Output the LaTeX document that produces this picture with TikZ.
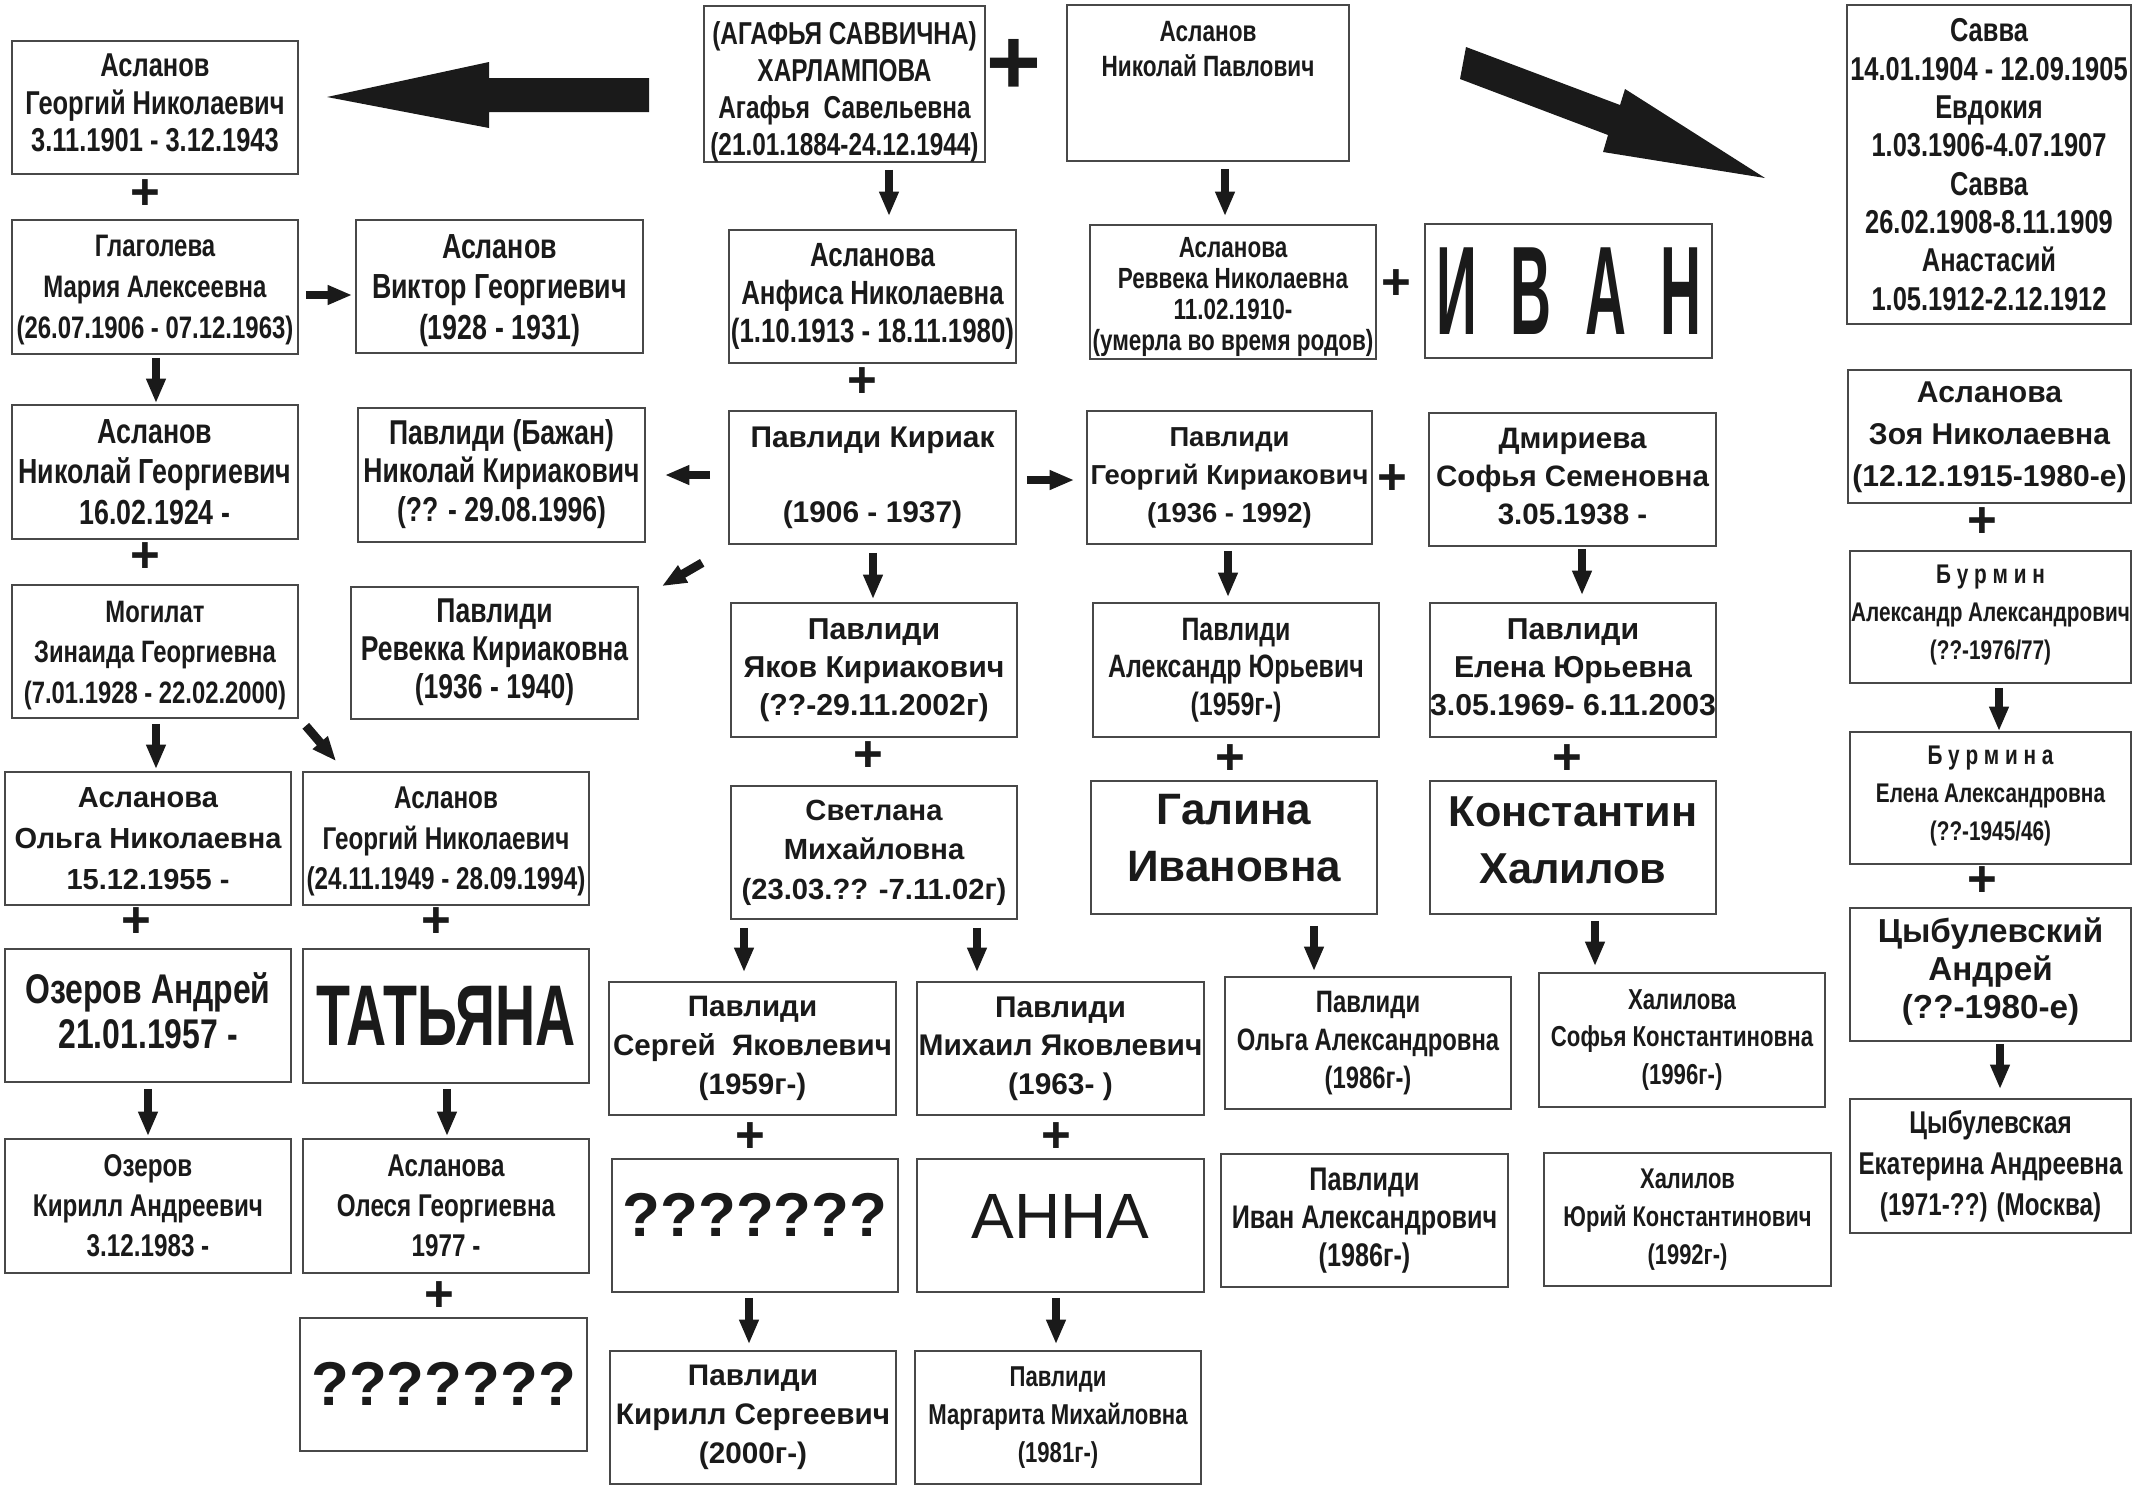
\documentclass[tikz,border=0pt]{standalone}
\usepackage{fontspec}
\setmainfont{Liberation Sans}
\newfontfamily\nfam{Liberation Sans}[FakeStretch=0.77]
\newfontfamily\ifam{Liberation Sans}[FakeStretch=0.45]
\newfontfamily\tfam{Liberation Sans}[FakeStretch=0.645]
\usetikzlibrary{arrows.meta,calc}
\definecolor{ink}{HTML}{1A1A1A}
\definecolor{edge}{HTML}{484848}
\newcommand\NB[2]{\nfam\bfseries\fontsize{#1}{#2}\selectfont}
\newcommand\WB[2]{\normalfont\bfseries\fontsize{#1}{#2}\selectfont}
\newcommand\WR[2]{\normalfont\fontsize{#1}{#2}\selectfont}
% name, x1, y1, x2, y2, font, text, text offset (px, downwards)
\newcommand\fnode[8]{%
  \pgfmathsetmacro\fnw{(#4-#2)*0.01}%
  \pgfmathsetmacro\fnh{(#5-#3)*0.01}%
  \pgfmathsetmacro\fnx{(#2+#4)/2}%
  \pgfmathsetmacro\fny{(#3+#5)/2}%
  \pgfmathsetmacro\fnyt{(#3+#5)/2+#8}%
  \node[fbox, minimum width=\fnw cm, minimum height=\fnh cm] (#1) at (\fnx,\fny) {};
  \node[txt, font=#6] (#1t) at (\fnx,\fnyt) {#7};}
\begin{document}
\begin{tikzpicture}[x=0.01cm,y=-0.01cm,
  fbox/.style={draw=edge, line width=0.45pt, inner sep=0pt},
  txt/.style={inner sep=0pt, align=center, text=ink},
  arr/.style={draw=ink, line width=2.5pt, -{Triangle[length=7pt,width=5.2pt]}},
  plus/.style={inner sep=0pt, text=ink, font=\WB{14.5pt}{15pt}}]
\fill[white] (0,0) rectangle (2134,1487);
\useasboundingbox (0,0) rectangle (2134,1487);

% left column
\fnode{b1}{12}{41}{298}{174}{\NB{9.4pt}{10.65pt}}{Асланов\\Георгий Николаевич\\3.11.1901 - 3.12.1943}{-4.5}
\fnode{glag}{12}{220}{298}{354}{\NB{8.84pt}{11.6pt}}{Глаголева\\Мария Алексеевна\\(26.07.1906 - 07.12.1963)}{3}
\fnode{viktor}{356}{220}{643}{353}{\NB{9.9pt}{11.6pt}}{Асланов\\Виктор Георгиевич\\(1928 - 1931)}{4}
\fnode{aslNG}{12}{405}{298}{539}{\NB{9.9pt}{11.6pt}}{Асланов\\Николай Георгиевич\\16.02.1924 -}{0}
\fnode{bazhan}{358}{408}{645}{542}{\NB{9.8pt}{11pt}}{Павлиди (Бажан)\\Николай Кириакович\\(?? - 29.08.1996)}{-1}
\fnode{mogil}{12}{585}{298}{718}{\NB{8.8pt}{11.6pt}}{Могилат\\Зинаида Георгиевна\\(7.01.1928 - 22.02.2000)}{4}
\fnode{olgaN}{5}{772}{291}{905}{\WB{8.25pt}{11.6pt}}{Асланова\\Ольга Николаевна\\15.12.1955 -}{0}
\fnode{georgN2}{303}{772}{589}{905}{\NB{8.95pt}{11.6pt}}{Асланов\\Георгий Николаевич\\(24.11.1949 - 28.09.1994)}{3}
\fnode{ozerA}{5}{949}{291}{1082}{\NB{11.8pt}{12.8pt}}{Озеров Андрей\\21.01.1957 -}{-5}
\fnode{tatiana}{303}{949}{589}{1083}{\tfam\bfseries\fontsize{24.5pt}{28pt}\selectfont}{ТАТЬЯНА}{0}
\fnode{ozerK}{5}{1139}{291}{1273}{\NB{8.95pt}{11.4pt}}{Озеров\\Кирилл Андреевич\\3.12.1983 -}{0}
\fnode{olesya}{303}{1139}{589}{1273}{\NB{8.95pt}{11.4pt}}{Асланова\\Олеся Георгиевна\\1977 -}{0}
\fnode{qleft}{300}{1318}{587}{1451}{\WB{17.6pt}{20pt}}{???????}{-1}

% centre column
\fnode{agafya}{704}{6}{985}{162}{\NB{9pt}{10.5pt}}{(АГАФЬЯ САВВИЧНА)\\ХАРЛАМПОВА\\Агафья\ \ Савельевна\\(21.01.1884-24.12.1944)}{8}
\fnode{anfisa}{729}{230}{1016}{363}{\NB{9.55pt}{10.8pt}}{Асланова\\Анфиса Николаевна\\(1.10.1913 - 18.11.1980)}{0}
\fnode{kiriak}{729}{411}{1016}{544}{\WB{8.5pt}{10.67pt}}{Павлиди Кириак\\[10.67pt](1906 - 1937)}{0}
\fnode{revekka}{351}{587}{638}{719}{\NB{9.8pt}{10.8pt}}{Павлиди\\Ревекка Кириаковна\\(1936 - 1940)}{-1}
\fnode{yakov}{731}{603}{1017}{737}{\WB{8.6pt}{10.8pt}}{Павлиди\\Яков Кириакович\\(??-29.11.2002г)}{0}
\fnode{svetlana}{731}{786}{1017}{919}{\WB{8.3pt}{11.2pt}}{Светлана\\Михайловна\\(23.03.?? -7.11.02г)}{0}
\fnode{sergey}{609}{982}{896}{1115}{\WB{8.4pt}{11pt}}{Павлиди\\Сергей\ \ Яковлевич\\(1959г-)}{0}
\fnode{mikhail}{917}{982}{1204}{1115}{\WB{8.5pt}{11pt}}{Павлиди\\Михаил Яковлевич\\(1963- )}{0}
\fnode{qmid}{612}{1159}{898}{1292}{\WB{17.6pt}{20pt}}{???????}{-10.5}
\fnode{anna}{917}{1159}{1204}{1292}{\WR{18.2pt}{20pt}}{АННА}{-9}
\fnode{kirillS}{610}{1351}{896}{1484}{\WB{8.45pt}{11pt}}{Павлиди\\Кирилл Сергеевич\\(2000г-)}{0}
\fnode{margarita}{915}{1351}{1201}{1484}{\NB{8.17pt}{10.8pt}}{Павлиди\\Маргарита Михайловна\\(1981г-)}{0}

% right-centre columns
\fnode{nikP}{1067}{5}{1349}{161}{\NB{8.35pt}{9.8pt}}{Асланов\\Николай Павлович}{-34}
\fnode{revveka}{1090}{225}{1376}{359}{\NB{8.3pt}{8.9pt}}{Асланова\\Реввека Николаевна\\11.02.1910-\\(умерла во время родов)}{5}
\fnode{ivan}{1425}{224}{1712}{358}{\ifam\bfseries\fontsize{35.85pt}{40pt}\selectfont}{И\hspace{9.6pt}В\hspace{9.6pt}А\hspace{9.6pt}Н}{0}
\fnode{georgK}{1087}{411}{1372}{544}{\WB{7.8pt}{10.8pt}}{Павлиди\\Георгий Кириакович\\(1936 - 1992)}{0}
\fnode{dmir}{1429}{413}{1716}{546}{\WB{8.4pt}{10.8pt}}{Дмириева\\Софья Семеновна\\3.05.1938 -}{-3}
\fnode{alexYu}{1093}{603}{1379}{737}{\NB{9.2pt}{10.6pt}}{Павлиди\\Александр Юрьевич\\(1959г-)}{0}
\fnode{elena}{1430}{603}{1716}{737}{\WB{8.6pt}{10.8pt}}{Павлиди\\Елена Юрьевна\\3.05.1969- 6.11.2003}{-3}
\fnode{galina}{1091}{781}{1377}{914}{\WB{12.5pt}{16.2pt}}{Галина\\Ивановна}{-9.5}
\fnode{konst}{1430}{781}{1716}{914}{\WB{12.3pt}{16.2pt}}{Константин\\Халилов}{-7.5}
\fnode{olgaA}{1225}{977}{1511}{1109}{\NB{8.8pt}{10.9pt}}{Павлиди\\Ольга Александровна\\(1986г-)}{0}
\fnode{ivanA}{1221}{1154}{1508}{1287}{\NB{9.3pt}{10.8pt}}{Павлиди\\Иван Александрович\\(1986г-)}{0}
\fnode{sofya}{1539}{973}{1825}{1107}{\NB{8.2pt}{10.6pt}}{Халилова\\Софья Константиновна\\(1996г-)}{0}
\fnode{yuriy}{1544}{1153}{1831}{1286}{\NB{8.1pt}{10.8pt}}{Халилов\\Юрий Константинович\\(1992г-)}{0}

% right column
\fnode{savva}{1847}{5}{2131}{324}{\NB{9.4pt}{10.9pt}}{Савва\\14.01.1904 - 12.09.1905\\Евдокия\\1.03.1906-4.07.1907\\Савва\\26.02.1908-8.11.1909\\Анастасий\\1.05.1912-2.12.1912}{0}
\fnode{zoya}{1848}{370}{2131}{503}{\WB{8.55pt}{12pt}}{Асланова\\Зоя Николаевна\\(12.12.1915-1980-е)}{1}
\fnode{burmin}{1850}{551}{2131}{683}{\NB{7.67pt}{10.9pt}}{Б у р м и н\\Александр Александрович\\(??-1976/77)}{-2}
\fnode{burmina}{1850}{732}{2131}{864}{\NB{7.67pt}{10.9pt}}{Б у р м и н а\\Елена Александровна\\(??-1945/46)}{-2}
\fnode{tsybA}{1850}{908}{2131}{1041}{\WB{9.45pt}{10.9pt}}{Цыбулевский\\Андрей\\(??-1980-е)}{-3}
\fnode{tsybE}{1850}{1099}{2131}{1233}{\NB{8.95pt}{11.6pt}}{Цыбулевская\\Екатерина Андреевна\\(1971-??) (Москва)}{0}

% plus signs
\node[plus] (p1) at (145,195) {+};
\node[plus] (p2) at (145,558) {+};
\node[plus] (p3) at (136,923) {+};
\node[plus] (p4) at (436,923) {+};
\node[plus] (p5) at (439,1297) {+};
\node[plus, font=\WB{26.7pt}{27pt}] (pbig) at (1014,67) {+};
\node[plus] (p6) at (862,383) {+};
\node[plus] (p7) at (868,757) {+};
\node[plus] (p8) at (750,1138) {+};
\node[plus] (p9) at (1056,1138) {+};
\node[plus] (p10) at (1396,285) {+};
\node[plus] (p11) at (1392,480) {+};
\node[plus] (p12) at (1230,760) {+};
\node[plus] (p13) at (1567,760) {+};
\node[plus] (p14) at (1982,523) {+};
\node[plus] (p15) at (1982,882) {+};

% big arrows
\fill[ink] (327,97) -- (489,62) -- (489,78) -- (649,78) -- (649,112) -- (489,112) -- (489,128) -- cycle;
\fill[ink] (1466,47) -- (1620,105) -- (1625,89) -- (1765,178) -- (1603,152) -- (1608,135) -- (1460,79) -- cycle;

% small arrows
\draw[arr] ($(glag.south)+(1,3)$) -- ($(aslNG.north)+(1,-1)$);
\draw[arr] ($(mogil.south)+(1,5)$) -- ($(olgaN.north)+(8,-2)$);
\draw[arr] ($(mogil.south east)+(7,7)$) -- ($(georgN2.north west)+(34,-10)$);
\draw[arr] ($(ozerA.south)+(0,6)$) -- ($(ozerK.north)+(0,-2)$);
\draw[arr] ($(tatiana.south)+(1,5)$) -- ($(olesya.north)+(1,-2)$);
\draw[arr] ($(agafya.south)+(44.5,7)$) -- ($(anfisa.north)+(16.5,-13)$);
\draw[arr] ($(kiriak.south)+(0.5,8)$) -- ($(yakov.north)+(-1,-3)$);
\draw[arr] ($(svetlana.south)+(-130,8)$) -- ($(sergey.north)+(-8.5,-9)$);
\draw[arr] ($(svetlana.south)+(103,8)$) -- ($(mikhail.north)+(-83.5,-9)$);
\draw[arr] ($(qmid.south)+(-6,5)$) -- ($(kirillS.north)+(-4,-6)$);
\draw[arr] ($(anna.south)+(-4.5,5)$) -- ($(margarita.north)+(-2,-6)$);
\draw[arr] ($(glag.east)+(7,8)$) -- ($(viktor.west)+(-3,8.5)$);
\draw[arr] ($(kiriak.west)+(-18,-2.5)$) -- ($(bazhan.east)+(19,0)$);
\draw[arr] ($(kiriak.east)+(10,2.5)$) -- ($(georgK.west)+(-12,2.5)$);
\draw[arr] ($(kiriak.south west)+(-26,18)$) -- ($(revekka.north east)+(23,0)$);
\draw[arr] ($(nikP.south)+(17,7)$) -- ($(revveka.north)+(-8,-8)$);
\draw[arr] ($(georgK.south)+(-1.5,6)$) -- ($(alexYu.north)+(-8,-5)$);
\draw[arr] ($(dmir.south)+(9.5,2)$) -- ($(elena.north)+(9,-7)$);
\draw[arr] ($(galina.south)+(80,11)$) -- ($(olgaA.north)+(-54,-5)$);
\draw[arr] ($(konst.south)+(22,6)$) -- ($(sofya.north)+(-87,-6)$);
\draw[arr] ($(burmin.south)+(8.5,4)$) -- ($(burmina.north)+(8.5,0)$);
\draw[arr] ($(tsybA.south)+(9.5,2)$) -- ($(tsybE.north)+(9.5,-9)$);
\end{tikzpicture}
\end{document}
